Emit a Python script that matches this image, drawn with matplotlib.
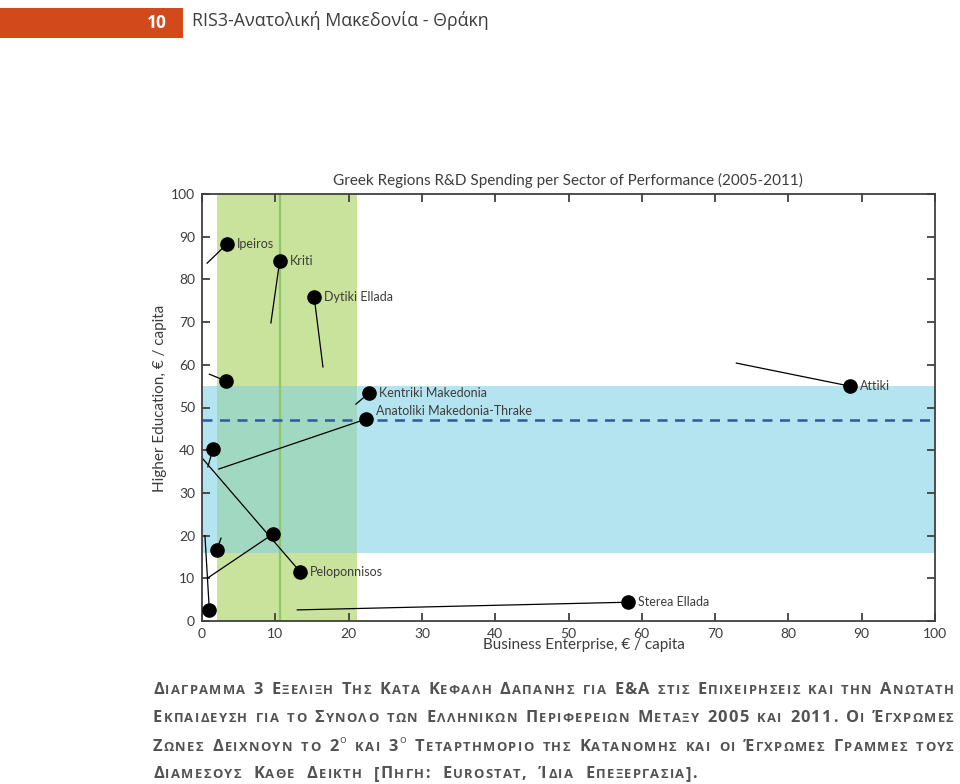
import matplotlib
matplotlib.use('Agg')
import matplotlib.pyplot as plt
from matplotlib.patches import Rectangle

# ---------------- data ----------------
regions = ["Ipeiros", "Kriti", "Dytiki Ellada", "", "Kentriki Makedonia",
           "Anatoliki Makedonia-Thrake", "Attiki", "", "", "Peloponnisos",
           "", "", "Sterea Ellada"]
be_2005 = [0.7, 9.4, 16.5, 1.0, 21.0, 2.3, 72.9, 0.8, 0.8, 0.0, 2.6, 0.4, 13.0]
he_2005 = [83.8, 69.8, 59.5, 57.8, 50.8, 35.6, 60.4, 36.1, 10.1, 38.2, 19.4, 20.0, 2.6]
be_2011 = [3.4, 10.6, 15.3, 3.3, 22.8, 22.4, 88.4, 1.5, 9.7, 13.4, 2.0, 1.0, 58.1]
he_2011 = [88.3, 84.3, 75.9, 56.2, 53.4, 47.3, 55.0, 40.3, 20.4, 11.5, 16.6, 2.6, 4.4]

be_q1, be_q3, be_median = 2.05, 21.1, 10.6
he_q1, he_q3, he_median = 15.9, 55.0, 47.1

ticks = [0, 10, 20, 30, 40, 50, 60, 70, 80, 90, 100]

title = "Greek Regions R&D Spending per Sector of Performance (2005-2011)"
xlabel = "Business Enterprise, € / capita"
ylabel = "Higher Education, € / capita"
header_num = "10"
header_text = "RIS3-Ανατολική Μακεδονία - Θράκη"
caption_lines = [
    "Διαγραμμα 3 Εξελιξη Της Κατα Κεφαλη Δαπανης για Ε&Α στις Επιχειρησεις και την Ανωτατη",
    "Εκπαιδευση για το Συνολο των Ελληνικων Περιφερειων Μεταξυ 2005 και 2011. Οι Έγχρωμες",
    "Ζωνες Δειχνουν το 2^ο και 3^ο Τεταρτημοριο της Κατανομης και οι Έγχρωμες Γραμμες τους",
    "Διαμεσους Καθε Δεικτη [Πηγη: Eurostat, Ίδια Επεξεργασια].",
]

# ---------------- figure ----------------
W, H = 960, 784
fig = plt.figure(figsize=(W / 100, H / 100), dpi=100)
FONT = ['Lato', 'Open Sans', 'DejaVu Sans']
GFONT = ['Open Sans', 'DejaVu Sans']
DARK = '#3c3c3c'

# header
fig.patches.append(Rectangle((0, 1 - 38 / H), 183 / W, 30 / H, transform=fig.transFigure,
                             facecolor='#d24a1c', edgecolor='none'))
fig.text(157 / W, 1 - 23 / H, header_num, color='white', fontsize=12.5, fontweight='bold',
         family=GFONT, ha='center', va='center')
fig.text(192 / W, 1 - 20 / H, header_text, color=DARK, fontsize=12.8,
         family=GFONT, ha='left', va='center')

# axes
ax = fig.add_axes([202 / W, 1 - 621 / H, (935 - 202) / W, (621 - 194) / H])
ax.set_xlim(0, 100)
ax.set_ylim(0, 100)

c_green = '#c9e39c'
c_blue = '#b4e4f0'
c_both = '#a0d8c1'
ax.add_patch(Rectangle((0, he_q1), 100, he_q3 - he_q1, facecolor=c_blue, edgecolor='none', zorder=0))
ax.add_patch(Rectangle((be_q1, 0), be_q3 - be_q1, 100, facecolor=c_green, edgecolor='none', zorder=0))
ax.add_patch(Rectangle((be_q1, he_q1), be_q3 - be_q1, he_q3 - he_q1, facecolor=c_both,
                       edgecolor='none', zorder=0.5))
ax.axvline(be_median, color='#8dc76a', lw=1.6, zorder=1)
ax.axhline(he_median, color='#2e5a9c', lw=1.8, ls=(0, (4, 3)), zorder=1)

for name, x0, y0, x1, y1 in zip(regions, be_2005, he_2005, be_2011, he_2011):
    ax.plot([x0, x1], [y0, y1], color='black', lw=0.9, zorder=2)
    ax.plot([x1], [y1], 'o', color='black', ms=9.5, zorder=3)
    if name:
        dy = 6 if name.startswith("Anatoliki") else 0
        ax.annotate(name, (x1, y1), xytext=(7, dy), textcoords='offset points',
                    ha='left', va='center', fontsize=9, color=DARK, family=FONT)

ax.set_xticks(ticks)
ax.set_yticks(ticks)
ax.tick_params(direction='in', length=6, width=1.3, color='#404040', labelsize=10,
               labelcolor=DARK, top=True, right=True, pad=5)
for lab in ax.get_xticklabels() + ax.get_yticklabels():
    lab.set_family(FONT)
for s in ax.spines.values():
    s.set_color('#404040')
    s.set_linewidth(1.3)

fig.text(568 / W, 1 - 180 / H, title, ha='center', va='center', fontsize=11, color=DARK, family=FONT)
fig.text(584 / W, 1 - 645 / H, xlabel, ha='center', va='center', fontsize=11, color=DARK, family=FONT)
fig.text(160 / W, 1 - 398 / H, ylabel, ha='center', va='center', rotation=90, fontsize=11,
         color=DARK, family=FONT)

# ---------------- caption (small caps, letter-spaced, justified) ----------------
renderer = fig.canvas.get_renderer()
BIG, SMALL = 11.8, 9.4
TRACK = 1.3
CAP_COLOR = '#525252'


def word_chars(word):
    out = []
    i = 0
    while i < len(word):
        c = word[i]
        if c == '^':
            out.append((word[i + 1], 8, 'normal', 8))
            i += 2
            continue
        if c.islower():
            out.append((c.upper(), SMALL, 'bold', 0))
        else:
            out.append((c, BIG, 'bold', 0))
        i += 1
    return out


_cache = {}


def measure(seg):
    key = seg[:3]
    if key not in _cache:
        t = fig.text(0, 0, seg[0], fontsize=seg[1], fontweight=seg[2], family=GFONT)
        _cache[key] = t.get_window_extent(renderer).width
        t.remove()
    return _cache[key]


x_left, x_right = 153, 955
baselines = [694, 722, 751, 778]
for li, (line, yb) in enumerate(zip(caption_lines, baselines)):
    words = line.split(' ')
    wchars = [word_chars(w) for w in words]
    widths = [[measure(s) + TRACK for s in ws] for ws in wchars]
    total = sum(sum(w) for w in widths)
    if li < len(caption_lines) - 1 and len(words) > 1:
        gap = (x_right - x_left - total) / (len(words) - 1)
    else:
        gap = 11.0
    x = x_left
    for ws, wl in zip(wchars, widths):
        for s, w in zip(ws, wl):
            fig.text(x / W, 1 - (yb - s[3]) / H, s[0], fontsize=s[1], fontweight=s[2],
                     family=GFONT, color=CAP_COLOR, ha='left', va='baseline')
            x += w
        x += gap

fig.savefig('out.png', dpi=100)
